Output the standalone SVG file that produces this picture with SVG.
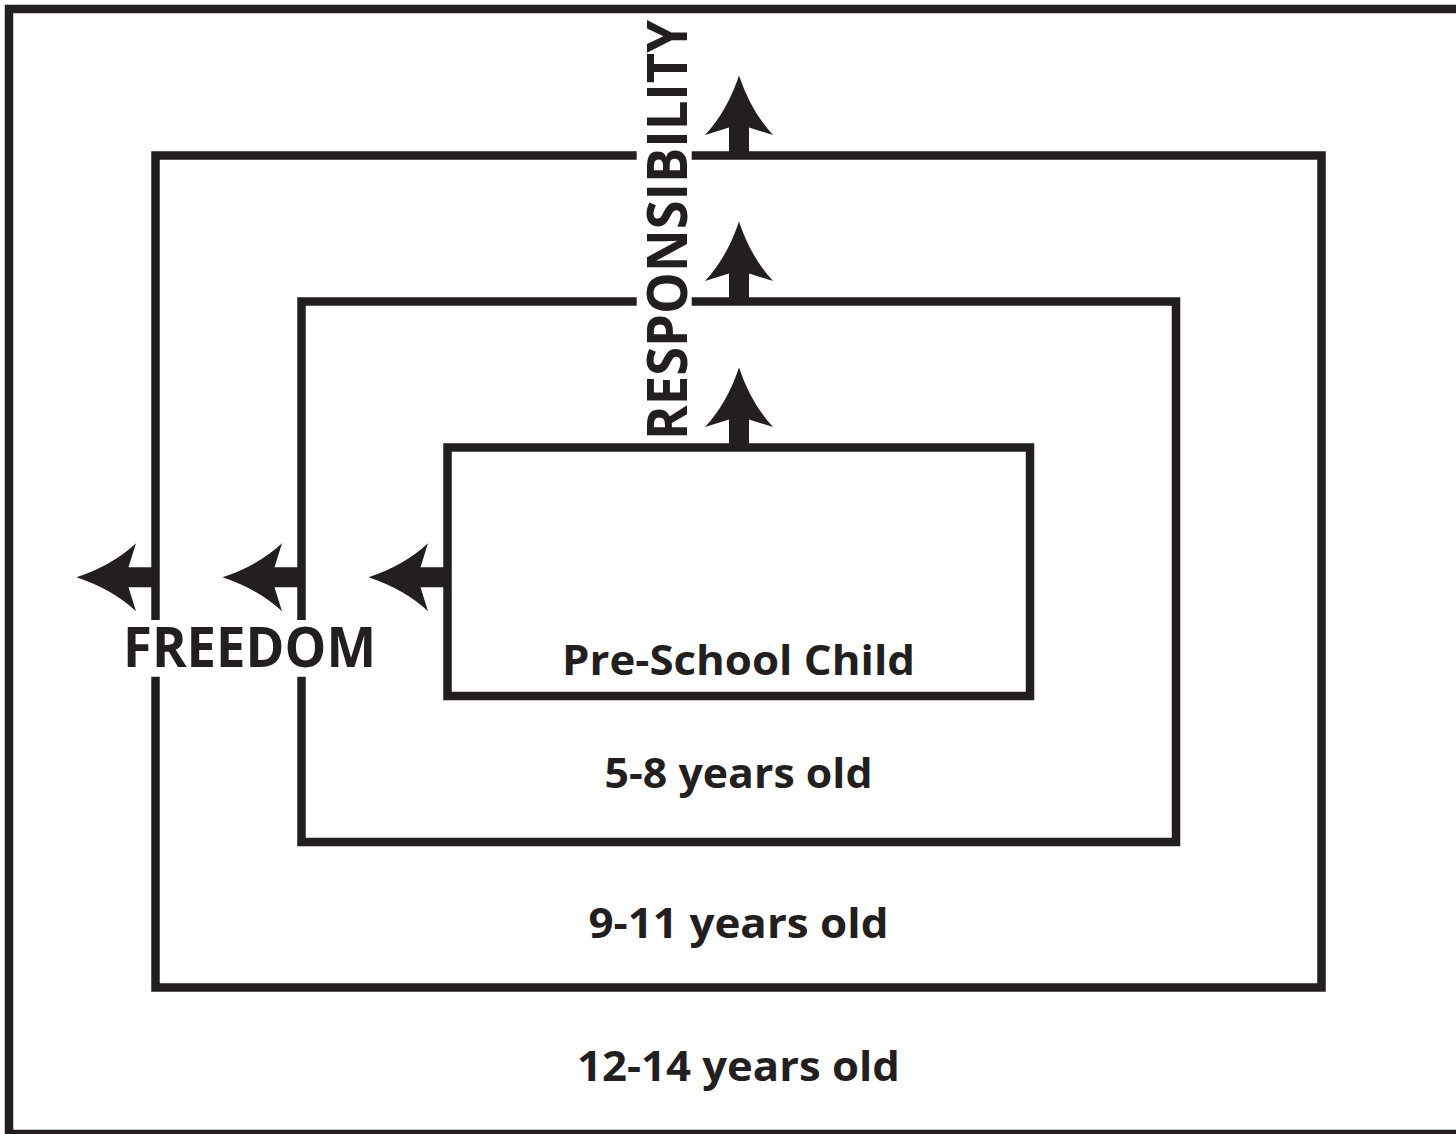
<svg xmlns="http://www.w3.org/2000/svg" xmlns:xlink="http://www.w3.org/1999/xlink" width="1456" height="1134" viewBox="0 0 1456 1134">
  <style>
    .frame { fill: none; stroke: #231f20; stroke-width: 8.5; stroke-linejoin: miter; }
    .arrow { fill: #231f20; stroke: none; }
    .lbl { font-family: "Open Sans", "Noto Sans", "Liberation Sans", sans-serif; font-weight: bold; fill: #231f20; }
    .age { font-size: 42px; text-anchor: middle; }
    .axis { font-size: 55px; }
  </style>
  <defs>
    <path id="arrowUp" d="M0,0 Q-12,36 -34,59.5 L-10,52 V80 H10 V52 L34,59.5 Q12,36 0,0 Z"/>
  </defs>
  <rect width="1456" height="1134" fill="#ffffff"/>

  <g id="outer-12-14">
    <rect class="frame" x="9" y="9" width="1460" height="1125"/>
    <text class="lbl age" x="738.5" y="1081" textLength="323" lengthAdjust="spacingAndGlyphs">12-14 years old</text>
  </g>

  <g id="box-9-11">
    <path class="frame" d="M691.7,155.5 H1321.5 V987.5 H155.5 V676.7 M155.5,620 V155.5 H636.7"/>
    <text class="lbl age" x="738.5" y="938" textLength="300" lengthAdjust="spacingAndGlyphs">9-11 years old</text>
  </g>

  <g id="box-5-8">
    <path class="frame" d="M691.7,301.5 H1176 V842 H301.5 V676.7 M301.5,620 V301.5 H636.7"/>
    <text class="lbl age" x="738.5" y="788" textLength="268" lengthAdjust="spacingAndGlyphs">5-8 years old</text>
  </g>

  <g id="box-preschool">
    <rect class="frame" x="447.5" y="447.5" width="582.5" height="248.5"/>
    <text class="lbl age" x="738.5" y="675" textLength="353" lengthAdjust="spacingAndGlyphs">Pre-School Child</text>
  </g>

  <g id="label-responsibility">
    <text class="lbl axis" transform="translate(686.5,440) rotate(-90)" x="0" y="0" font-size="56" textLength="420" lengthAdjust="spacingAndGlyphs">RESPONSIBILITY</text>
  </g>

  <g id="label-freedom">
    <text class="lbl axis" x="123" y="667.3" textLength="253" lengthAdjust="spacingAndGlyphs">FREEDOM</text>
  </g>

  <g id="connectors">
    <use class="arrow" xlink:href="#arrowUp" href="#arrowUp" transform="translate(739,367.5)"/>
    <use class="arrow" xlink:href="#arrowUp" href="#arrowUp" transform="translate(739,221.5)"/>
    <use class="arrow" xlink:href="#arrowUp" href="#arrowUp" transform="translate(739,75.5)"/>
    <use class="arrow" xlink:href="#arrowUp" href="#arrowUp" transform="translate(368.5,577.3) rotate(-90)"/>
    <use class="arrow" xlink:href="#arrowUp" href="#arrowUp" transform="translate(222.5,577.3) rotate(-90)"/>
    <use class="arrow" xlink:href="#arrowUp" href="#arrowUp" transform="translate(76.5,577.3) rotate(-90)"/>
  </g>
</svg>
